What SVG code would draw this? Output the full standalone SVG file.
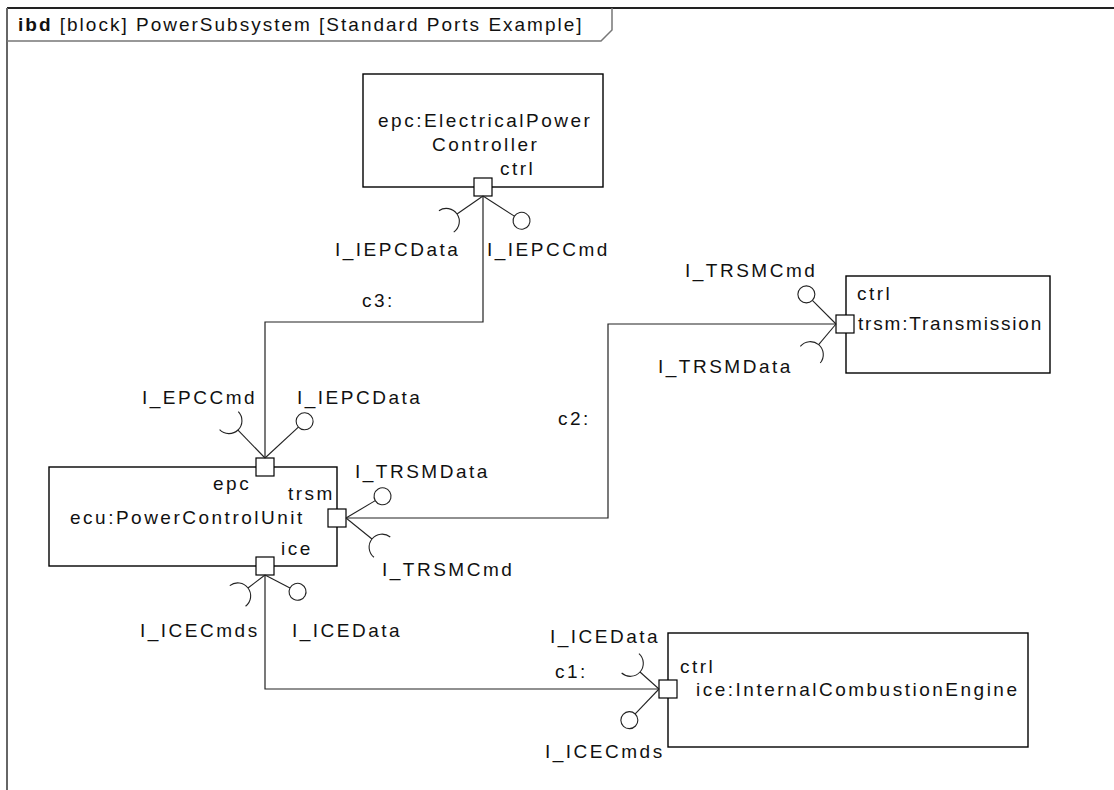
<svg xmlns="http://www.w3.org/2000/svg" width="1114" height="790" viewBox="0 0 1114 790">
<style>
text{font-family:"Liberation Sans",Arial,sans-serif;font-size:19px;fill:#111;letter-spacing:2.5px}
.title{letter-spacing:2px}
.blk{fill:#fff;stroke:#000;stroke-width:1.4}
.port{fill:#fff;stroke:#000;stroke-width:1.2}
.ln{fill:none;stroke:#222;stroke-width:1.1}
.lol{fill:#fff;stroke:#222;stroke-width:1.1}
.con{fill:none;stroke:#222;stroke-width:1.2}
</style>
<rect width="1114" height="790" fill="#fff"/>
<g id="frame">
<line x1="7" y1="8" x2="1114" y2="8" stroke="#222" stroke-width="2"/>
<line x1="7" y1="8" x2="7" y2="790" stroke="#666" stroke-width="2"/>
<polyline points="612,8 612,30 601,41 7,41" fill="none" stroke="#777" stroke-width="1.5"/>
<text class="title" x="18" y="31"><tspan font-weight="bold">ibd</tspan> [block] PowerSubsystem [Standard Ports Example]</text>
</g>
<g id="connectors">
<path class="con" d="M483,196 V322 H265 V458"/>
<path class="con" d="M346,518 H608 V324 H836"/>
<path class="con" d="M265,575 V689 H659"/>
<text x="362" y="307">c3:</text>
<text x="558" y="425">c2:</text>
<text x="555" y="678">c1:</text>
</g>
<g id="epc">
<rect class="blk" x="363" y="74" width="240" height="113"/>
<text x="378" y="127">epc:ElectricalPower</text>
<text x="432" y="151">Controller</text>
<text x="500" y="175">ctrl</text>
<rect class="port" x="474" y="178" width="18" height="18"/>
<g transform="translate(483,196) rotate(145.3)"><line class="ln" x1="0" y1="0" x2="31.6" y2="0"/><path class="ln" d="M44.6,-13 A13,13 0 0 0 44.6,13"/></g>
<g transform="translate(483,196) rotate(32.7)"><line class="ln" x1="0" y1="0" x2="37.3" y2="0"/><circle class="lol" cx="45.8" cy="0" r="8.5"/></g>
<text x="335" y="256">I_IEPCData</text>
<text x="487" y="256">I_IEPCCmd</text>
</g>
<g id="ecu">
<rect class="blk" x="49" y="467" width="288" height="99"/>
<text x="213" y="490">epc</text>
<text x="288" y="500">trsm</text>
<text x="70" y="524">ecu:PowerControlUnit</text>
<text x="281" y="555">ice</text>
<rect class="port" x="256" y="458" width="18" height="18"/>
<rect class="port" x="328" y="509" width="18" height="18"/>
<rect class="port" x="256" y="557" width="18" height="18"/>
<g transform="translate(265,458) rotate(-134)"><line class="ln" x1="0" y1="0" x2="38.9" y2="0"/><path class="ln" d="M51.9,-13 A13,13 0 0 0 51.9,13"/></g>
<g transform="translate(265,458) rotate(-42.8)"><line class="ln" x1="0" y1="0" x2="45.5" y2="0"/><circle class="lol" cx="54" cy="0" r="8.5"/></g>
<g transform="translate(346,518) rotate(-30.7)"><line class="ln" x1="0" y1="0" x2="34" y2="0"/><circle class="lol" cx="42.5" cy="0" r="8.5"/></g>
<g transform="translate(346,518) rotate(38.9)"><line class="ln" x1="0" y1="0" x2="33.4" y2="0"/><path class="ln" d="M46.4,-13 A13,13 0 0 0 46.4,13"/></g>
<g transform="translate(265,575) rotate(142.6)"><line class="ln" x1="0" y1="0" x2="21.4" y2="0"/><path class="ln" d="M34.4,-13 A13,13 0 0 0 34.4,13"/></g>
<g transform="translate(265,575) rotate(27.3)"><line class="ln" x1="0" y1="0" x2="28.1" y2="0"/><circle class="lol" cx="36.6" cy="0" r="8.5"/></g>
<text x="142" y="404">I_EPCCmd</text>
<text x="297" y="404">I_IEPCData</text>
<text x="355" y="478">I_TRSMData</text>
<text x="382" y="576">I_TRSMCmd</text>
<text x="140" y="637">I_ICECmds</text>
<text x="292" y="637">I_ICEData</text>
</g>
<g id="trsm">
<rect class="blk" x="846" y="276" width="204" height="97"/>
<text x="857" y="300">ctrl</text>
<text x="858" y="330" style="letter-spacing:1.8px">trsm:Transmission</text>
<rect class="port" x="836" y="315" width="18" height="18"/>
<g transform="translate(836,324) rotate(-135)"><line class="ln" x1="0" y1="0" x2="33.4" y2="0"/><circle class="lol" cx="41.9" cy="0" r="8.5"/></g>
<g transform="translate(836,324) rotate(130)"><line class="ln" x1="0" y1="0" x2="27" y2="0"/><path class="ln" d="M40,-13 A13,13 0 0 0 40,13"/></g>
<text x="685" y="277">I_TRSMCmd</text>
<text x="658" y="373">I_TRSMData</text>
</g>
<g id="ice">
<rect class="blk" x="668" y="633" width="360" height="114"/>
<text x="680" y="673">ctrl</text>
<text x="696" y="696">ice:InternalCombustionEngine</text>
<rect class="port" x="659" y="680" width="18" height="18"/>
<g transform="translate(659,689) rotate(-138.2)"><line class="ln" x1="0" y1="0" x2="25.5" y2="0"/><path class="ln" d="M38.5,-13 A13,13 0 0 0 38.5,13"/></g>
<g transform="translate(659,689) rotate(133.6)"><line class="ln" x1="0" y1="0" x2="34.5" y2="0"/><circle class="lol" cx="43" cy="0" r="8.5"/></g>
<text x="550" y="643">I_ICEData</text>
<text x="545" y="758">I_ICECmds</text>
</g>
</svg>
